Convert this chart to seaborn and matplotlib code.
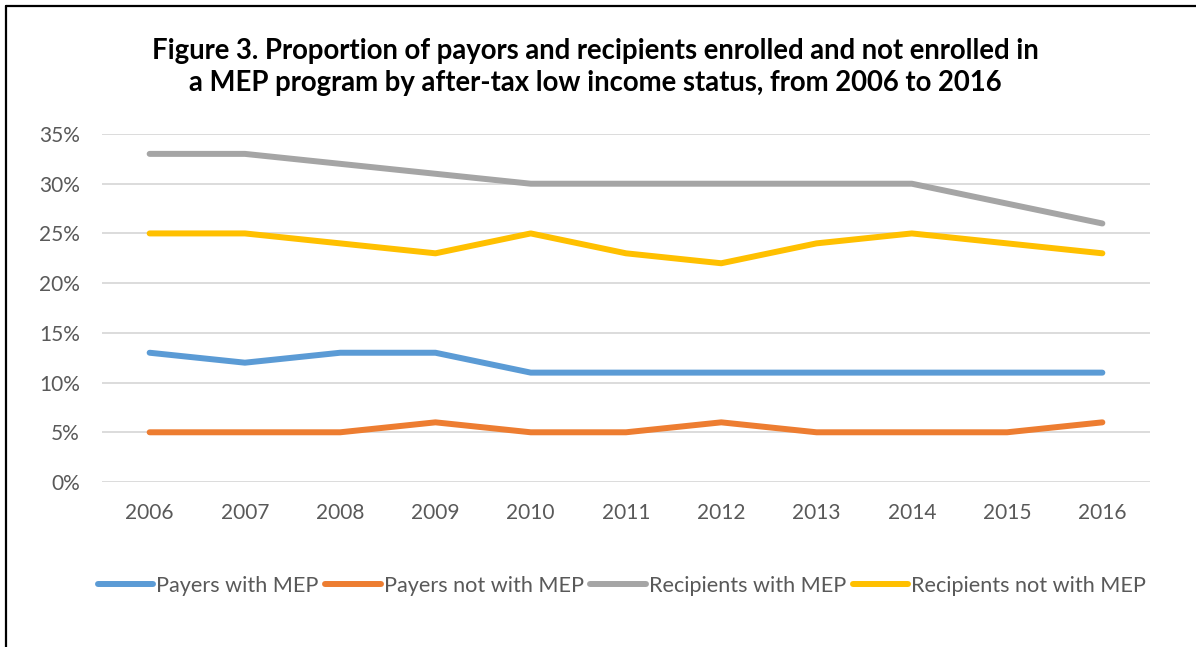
import matplotlib
matplotlib.use("Agg")
import matplotlib.pyplot as plt
from matplotlib.lines import Line2D
from matplotlib.ticker import FuncFormatter, MultipleLocator
import pandas as pd
import seaborn as sns

years = [2006, 2007, 2008, 2009, 2010, 2011, 2012, 2013, 2014, 2015, 2016]
payers_with_mep = [13, 12, 13, 13, 11, 11, 11, 11, 11, 11, 11]
payers_not_with_mep = [5, 5, 5, 6, 5, 5, 6, 5, 5, 5, 6]
recipients_with_mep = [33, 33, 32, 31, 30, 30, 30, 30, 30, 28, 26]
recipients_not_with_mep = [25, 25, 24, 23, 25, 23, 22, 24, 25, 24, 23]

series_names = ["Payers with MEP", "Payers not with MEP",
                "Recipients with MEP", "Recipients not with MEP"]
series_values = [payers_with_mep, payers_not_with_mep,
                 recipients_with_mep, recipients_not_with_mep]
colors = ["#5B9BD5", "#ED7D31", "#A5A5A5", "#FFC000"]

title = ("Figure 3. Proportion of payors and recipients enrolled and not enrolled in\n"
         "a MEP program by after-tax low income status, from 2006 to 2016")

rows = []
for name, vals in zip(series_names, series_values):
    for yr, v in zip(years, vals):
        rows.append({"Year": yr, "Share": v, "Series": name})
df = pd.DataFrame(rows)

sns.set_theme(style="white")
plt.rcParams["font.family"] = ["Lato", "DejaVu Sans"]

W, H = 1196, 647
fig = plt.figure(figsize=(W / 100, H / 100), dpi=100)
fig.patch.set_facecolor("white")
ax = fig.add_axes([102 / W, 1 - 482 / H, (1150 - 102) / W, (482 - 134) / H])

sns.lineplot(data=df, x="Year", y="Share", hue="Series", hue_order=series_names,
             palette=colors, linewidth=4.3, sort=False, ax=ax, legend=False,
             zorder=3)
for ln in ax.get_lines():
    ln.set_solid_capstyle("round")
    ln.set_solid_joinstyle("round")

ax.set_xlim(years[0] - 0.5, years[-1] + 0.5)
ax.set_ylim(0, 35)
ax.set_xticks(years)
ax.set_xticklabels([str(y) for y in years])
ax.yaxis.set_major_locator(MultipleLocator(5))
ax.yaxis.set_major_formatter(FuncFormatter(lambda v, p: f"{v:.0f}%"))
ax.grid(axis="y", color="#D9D9D9", linewidth=1.3, zorder=0)
ax.grid(axis="x", visible=False)
for s in ax.spines.values():
    s.set_visible(False)
ax.tick_params(axis="both", length=0, labelsize=15, labelcolor="#595959")
ax.tick_params(axis="y", pad=16)
ax.tick_params(axis="x", pad=15)
ax.set_xlabel("")
ax.set_ylabel("")
ax.set_facecolor("white")

fig.text(595 / W, 1 - 67 / H, title, ha="center", va="center", fontsize=19.8,
         fontweight="bold", color="black", linespacing=1.32)

handles = [Line2D([0], [0], color=c, linewidth=4.3, solid_capstyle="round")
           for c in colors]
fig.legend(handles, series_names, loc="center", ncol=4,
           bbox_to_anchor=(622 / W, 1 - 586 / H), frameon=False, fontsize=15.6,
           labelcolor="#595959", handlelength=2.55, handletextpad=0.15,
           columnspacing=0.3)

# frame edges along the top and left
fig.add_artist(Line2D([6 / W, 1], [1 - 6 / H, 1 - 6 / H], color="black",
                      linewidth=1.6, transform=fig.transFigure))
fig.add_artist(Line2D([6 / W, 6 / W], [0, 1 - 6 / H], color="black",
                      linewidth=1.6, transform=fig.transFigure))

fig.savefig("out.png", dpi=100, facecolor="white")
